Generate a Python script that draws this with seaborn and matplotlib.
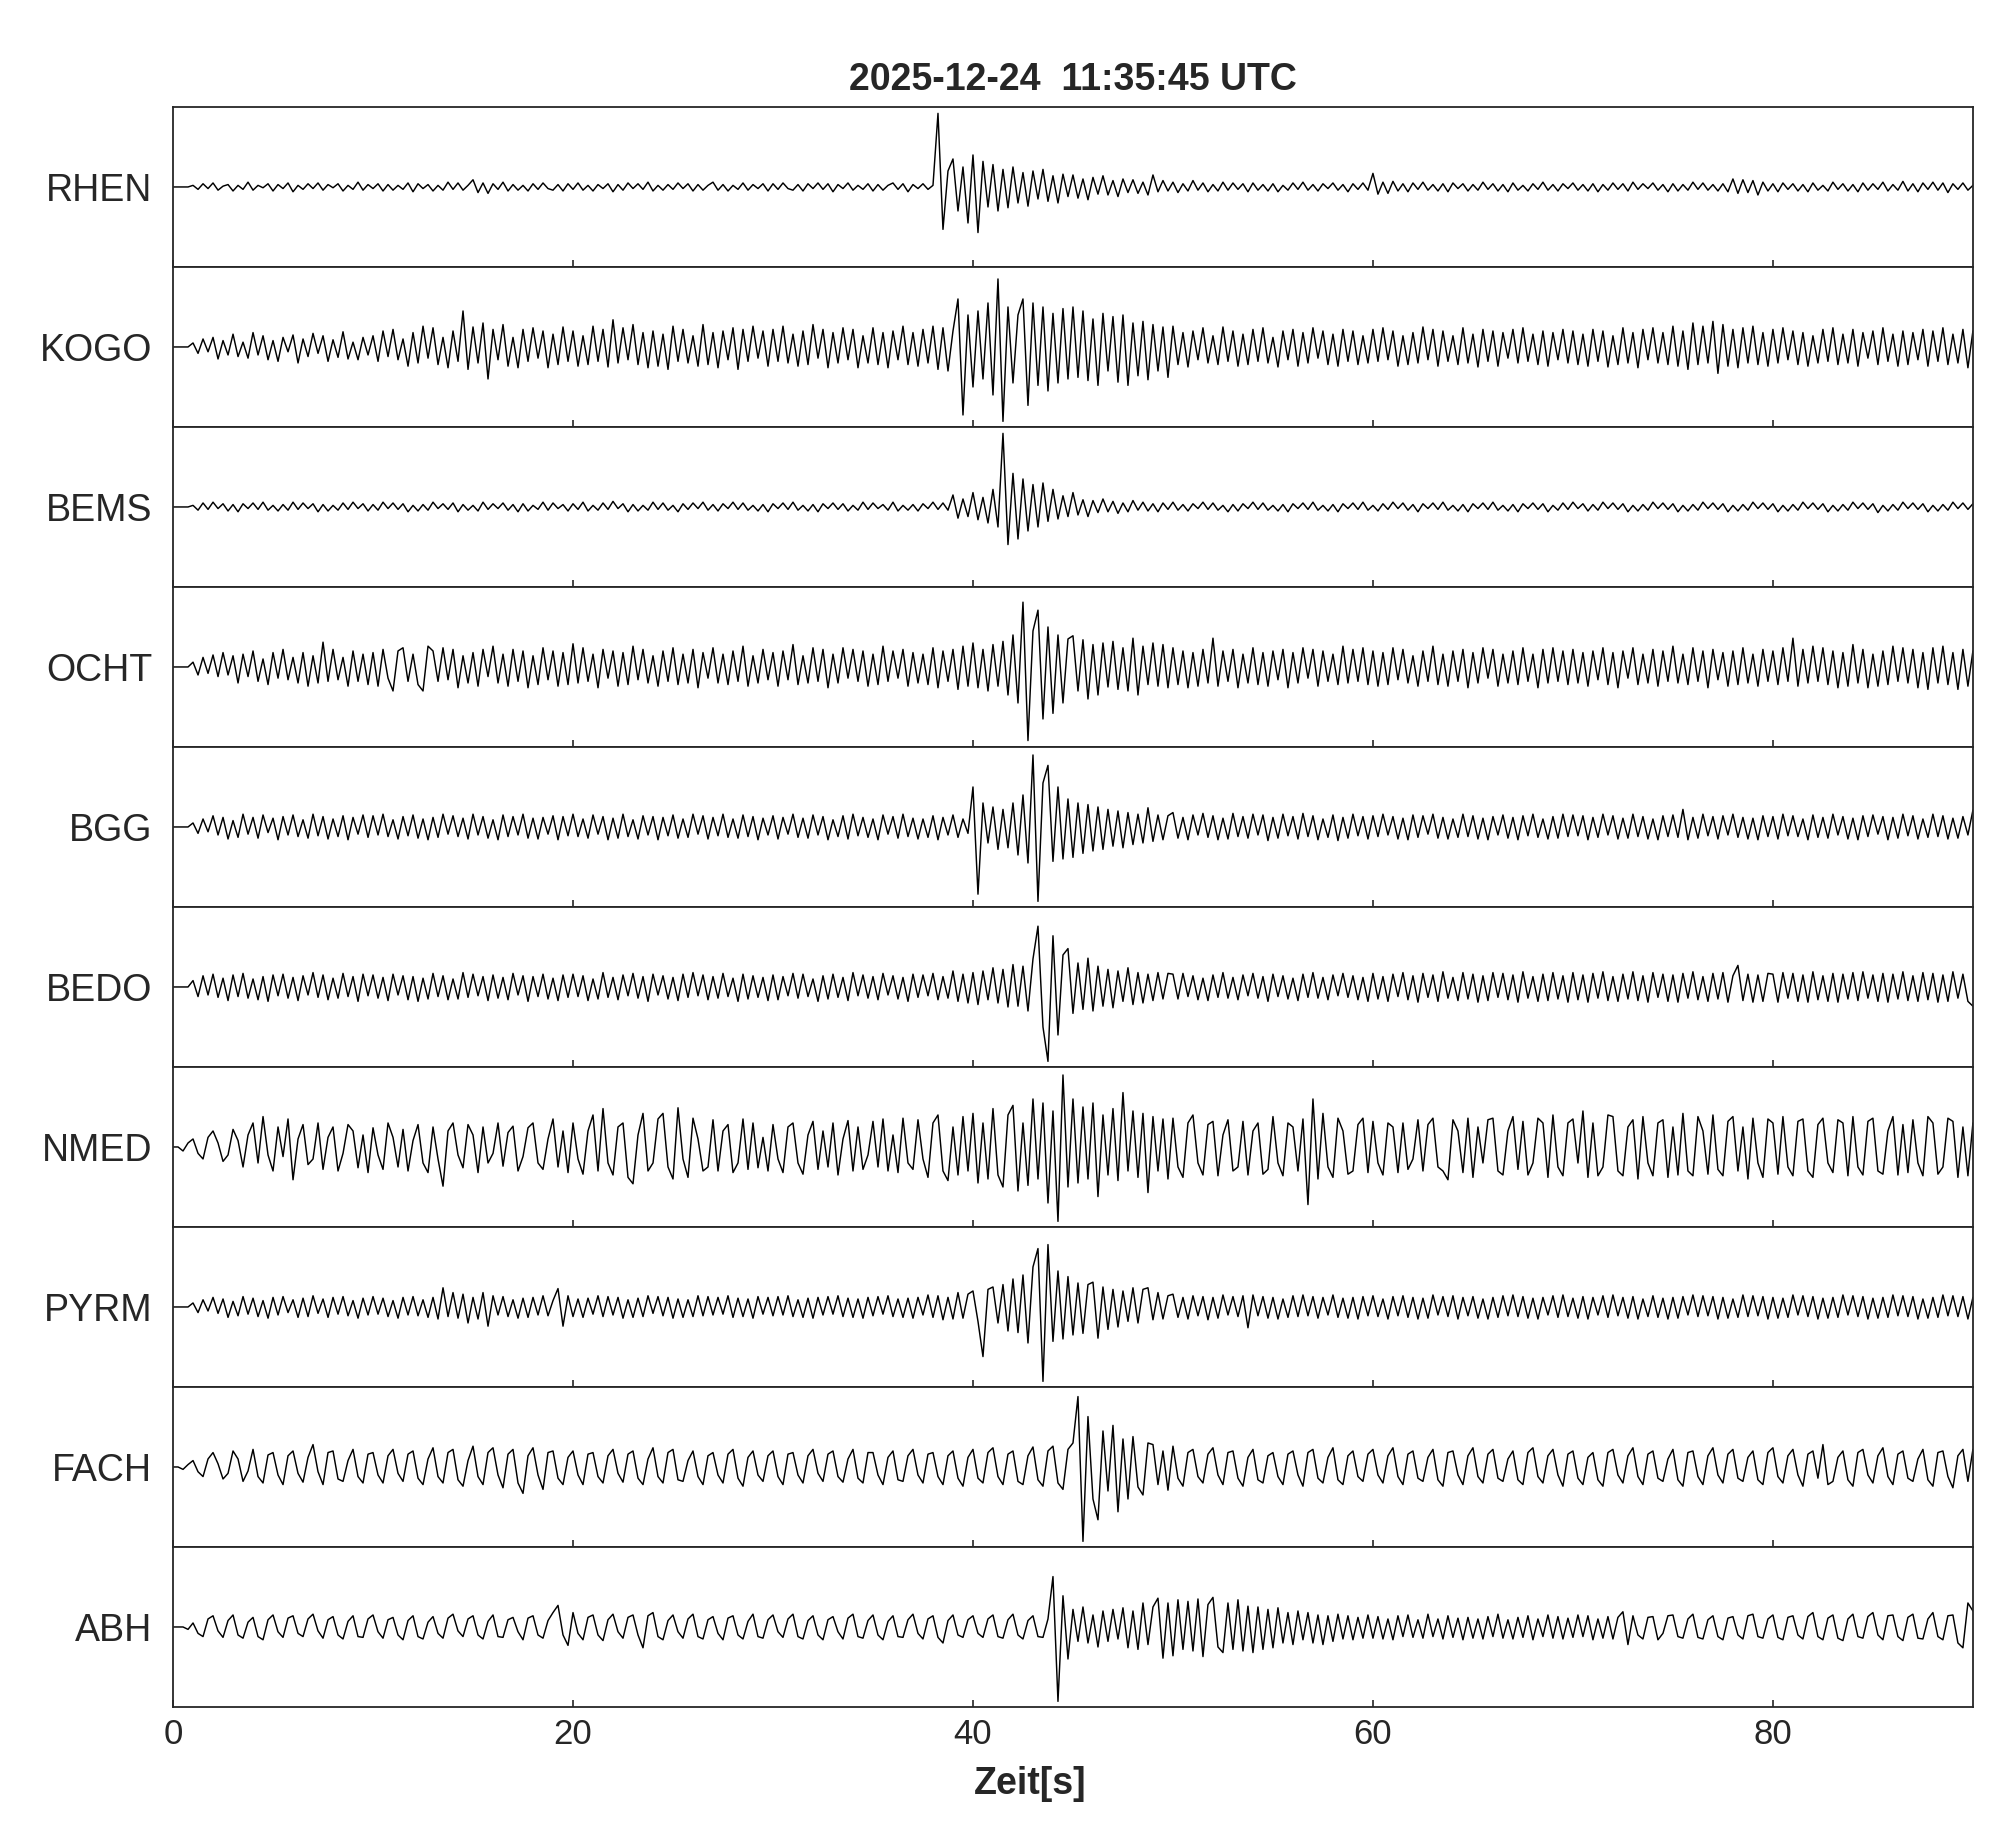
import numpy as np
import pandas as pd
import seaborn as sns
import matplotlib
matplotlib.use("Agg")
import matplotlib.pyplot as plt

# Stationen von oben nach unten
stations = ["RHEN", "KOGO", "BEMS", "OCHT", "BGG", "BEDO", "NMED", "PYRM", "FACH", "ABH"]
title = "2025-12-24  11:35:45 UTC"
dt = 0.25
xticks = [0, 20, 40, 60, 80]

# Amplituden (100 = halbe Spurhoehe)
rhen = [
    [0, 0, 0, 0, 2, -3, 4, -2, 5, -4, 1, 3, -5, 2, -3, 6, -4, 2, -1, 4, -5, 3, -2, 5, -6, 2, -3, 4, -2, 5, -4, 3, -1, 4, -5, 2, -3, 6, -4, 3],
    [-2, 4, -5, 3, -4, 2, -3, 5, -6, 4, -2, 3, -5, 2, -4, 6, -3, 5, -4, 2, 9, -7, 5, -8, 4, -3, 6, -5, 3, -4, 2, -5, 4, -3, 5, -2, -4, 3, -5, 4],
    [-3, 5, -4, 2, -5, 3, -2, 4, -6, 3, -4, 5, -2, 4, -3, 6, -5, 2, -4, 3, -3, 5, -2, 4, -5, 3, -4, 2, 6, -4, 3, -5, 2, -3, 5, -4, 3, -2, 4, -5],
    [4, -3, 5, -2, -4, 3, -5, 4, -2, 5, -3, 4, -6, 3, -2, 5, -4, 2, -3, 4, -5, 3, -4, 2, 5, -3, 4, -6, 3, -2, 4, -3, 2, 92, -53, 20, 35, -30, 25, -45],
    [40, -57, 32, -25, 28, -30, 22, -26, 25, -20, 18, -24, 20, -15, 22, -18, 14, -20, 16, -12, 15, -14, 10, -16, 12, -9, 14, -10, 8, -12, 10, -7, 9, -8, 6, -10, 15, -6, 8, -5],
    [6, -7, 4, -5, 8, -4, 5, -6, 3, -5, 6, -4, 5, -3, 4, -6, 5, -4, 3, -5, 4, -6, 2, -4, 5, -3, 6, -4, 3, -5, 4, -2, 5, -4, 3, -6, 4, -3, 5, -4],
    [17, -9, 6, -8, 7, -5, 4, -6, 5, -3, 6, -4, 3, -5, 4, -6, 5, -2, 4, -5, 3, -4, 6, -3, 4, -5, 3, -6, 5, -4, 2, -5, 4, -3, 6, -4, 3, -5, 4, -2],
    [5, -4, 3, -5, 4, -6, 3, -4, 5, -3, 4, -5, 6, -3, 4, -2, 5, -4, 3, -6, 4, -5, 3, -4, 6, -3, 5, -4, 3, -5, 4, -6, 10, -8, 9, -7, 8, -10, 6, -5],
    [4, -6, 5, -3, 4, -5, 3, -6, 5, -4, 2, -5, 6, -3, 4, -5, 3, -6, 5, -4, 4, -3, 6, -5, 3, -4, 7, -5, 4, -6, 5, -3, 6, -4, 5, -7, 4, -3, 5, -4, 2],
]
kogo = [
    [0, 0, 0, 0, 5, -8, 10, -6, 12, -15, 8, -10, 16, -12, 6, -14, 18, -10, 14, -16, 8, -18, 12, -6, 15, -20, 10, -12, 17, -8, 14, -18, 9, -13, 19, -15, 6, -16, 12, -10],
    [14, -18, 20, -12, 22, -16, 10, -24, 18, -20, 26, -14, 24, -22, 12, -26, 20, -18, 45, -28, 25, -20, 30, -40, 22, -16, 28, -24, 12, -26, 22, -18, 24, -14, 20, -26, 16, -22, 25, -18],
    [20, -24, 14, -22, 26, -18, 22, -25, 34, -20, 24, -16, 28, -22, 18, -26, 20, -24, 16, -28, 26, -18, 22, -20, 14, -24, 28, -22, 18, -26, 20, -16, 24, -28, 22, -18, 26, -14, 20, -24],
    [22, -18, 26, -20, 16, -24, 20, -22, 28, -14, 22, -26, 18, -20, 24, -16, 22, -26, 14, -20, 24, -22, 18, -26, 20, -16, 26, -22, 18, -24, 22, -20, 26, -28, 24, -30, 20, 60, -85, 40],
    [-50, 45, -40, 55, -60, 85, -93, 50, -45, 40, 60, -73, 55, -48, 50, -55, 42, -45, 48, -40, 50, -38, 45, -42, 35, -48, 42, -30, 38, -44, 40, -48, 30, -36, 32, -41, 28, -30, 25, -38],
    [26, -22, 18, -25, 20, -16, 24, -20, 14, -22, 25, -18, 20, -24, 16, -22, 22, -18, 24, -20, 12, -25, 20, -16, 22, -24, 18, -20, 24, -14, 20, -22, 16, -24, 22, -18, 20, -22, 14, -20],
    [22, -18, 24, -16, 20, -24, 14, -22, 18, -20, 25, -16, 22, -24, 20, -18, 14, -22, 24, -20, 16, -25, 22, -18, 20, -24, 18, -14, 22, -20, 24, -18, 16, -22, 20, -24, 18, -16, 22, -20],
    [20, -22, 16, -24, 22, -18, 20, -25, 14, -22, 24, -20, 18, -26, 22, -16, 24, -20, 18, -22, 26, -24, 20, -28, 30, -22, 26, -20, 32, -33, 28, -24, 22, -26, 24, -20, 26, -22, 18, -24],
    [22, -20, 24, -16, 20, -22, 18, -24, 14, -20, 22, -18, 24, -22, 16, -20, 22, -24, 18, -14, 20, -22, 24, -18, 16, -24, 20, -22, 18, -16, 22, -24, 20, -18, 24, -22, 16, -20, 22, -26, 20],
]
bems = [
    [0, 0, 0, 0, 2, -4, 5, -3, 6, -2, 4, -5, 3, -6, 4, -2, 5, -3, 6, -4, 2, -5, 3, -4, 6, -3, 5, -2, 4, -6, 3, -5, 2, -4, 5, -3, 6, -2, 4, -5],
    [3, -4, 6, -2, 5, -3, 4, -6, 2, -5, 3, -4, 6, -2, 4, -3, 5, -6, 3, -4, 2, -5, 6, -3, 4, -2, 5, -4, 3, -6, 4, -5, 2, -3, 6, -4, 5, -2, 3, -5],
    [4, -3, 6, -5, 2, -4, 5, -3, 7, -2, 4, -6, 3, -5, 2, -4, 6, -3, 5, -4, 2, -6, 4, -3, 5, -2, 6, -4, 3, -5, 4, -2, 6, -3, 5, -4, 2, -5, 3, -6],
    [4, -2, 5, -3, 6, -4, 2, -5, 3, -6, 4, -2, 5, -3, 4, -5, 2, -4, 6, -3, 5, -2, 3, -4, 6, -5, 2, -4, 3, -5, 4, -2, 6, -3, 5, -4, 15, -14, 10, -12],
    [18, -16, 12, -20, 22, -25, 92, -47, 42, -40, 35, -30, 28, -25, 30, -18, 22, -15, 14, -12, 18, -10, 9, -12, 8, -7, 10, -6, 7, -8, 5, -6, 8, -4, 6, -5, 4, -6, 5, -3],
    [6, -4, 3, -5, 4, -2, 6, -3, 5, -4, 2, -6, 3, -5, 4, -2, 6, -3, 5, -4, 2, -5, 3, -6, 4, -2, 5, -3, 6, -4, 2, -5, 3, -6, 4, -2, 5, -3, 6, -4],
    [2, -5, 4, -3, 6, -2, 5, -4, 3, -6, 4, -2, 5, -3, 6, -4, 2, -5, 3, -6, 4, -2, 5, -3, 6, -4, 2, -5, 3, -6, 4, -2, 5, -3, 4, -6, 2, -4, 5, -3],
    [6, -2, 4, -5, 3, -4, 6, -2, 5, -3, 4, -6, 2, -5, 3, -4, 6, -2, 5, -3, 4, -6, 2, -5, 3, -4, 6, -2, 5, -3, 4, -6, 2, -5, 3, -4, 6, -2, 5, -3],
    [4, -6, 2, -5, 3, -4, 6, -2, 5, -3, 4, -6, 2, -5, 3, -4, 6, -2, 5, -3, 4, -7, 2, -5, 3, -4, 6, -2, 5, -3, 4, -6, 2, -5, 3, -4, 6, -2, 5, -3, 4],
]
ocht = [
    [0, 0, 0, 0, 6, -10, 12, -8, 15, -12, 18, -10, 14, -20, 16, -12, 20, -18, 10, -22, 18, -14, 22, -16, 12, -20, 18, -24, 14, -20, 31, -18, 22, -16, 12, -24, 20, -18, 16, -22],
    [18, -24, 22, -14, -30, 20, 24, -18, 16, -22, -30, 26, 20, -18, 24, -16, 22, -26, 14, -20, 18, -24, 22, -12, 26, -20, 16, -24, 22, -18, 20, -26, 14, -22, 24, -16, 20, -24, 18, -22],
    [29, -20, 24, -18, 16, -26, 22, -14, 20, -24, 18, -22, 26, -16, 22, -20, 14, -24, 20, -18, 24, -22, 16, -20, 22, -26, 18, -14, 24, -20, 16, -22, 20, -18, 26, -24, 14, -20, 22, -16],
    [18, -24, 20, -16, 28, -22, 14, -20, 24, -18, 22, -26, 16, -20, 24, -14, 22, -18, 20, -24, 16, -22, 26, -18, 20, -14, 22, -24, 18, -20, 16, -22, 24, -26, 20, -18, 22, -28, 26, -24],
    [30, -26, 22, -30, 28, -24, 32, -35, 40, -45, 81, -92, 45, 71, -65, 50, -58, 40, -45, 35, 39, -30, 34, -40, 28, -35, 30, -25, 32, -28, 24, -30, 36, -35, 26, -22, 30, -24, 28, -26],
    [24, -22, 20, -26, 18, -24, 22, -20, 36, -24, 20, -18, 22, -26, 16, -20, 24, -22, 18, -24, 20, -16, 22, -26, 18, -20, 24, -14, 22, -24, 20, -18, 16, -22, 26, -20, 22, -18, 24, -22],
    [20, -24, 18, -22, 24, -16, 22, -20, 14, -24, 20, -18, 26, -22, 16, -24, 20, -18, 22, -26, 18, -20, 24, -14, 22, -24, 16, -20, 20, -22, 24, -18, 16, -26, 22, -20, 24, -18, 20, -22],
    [22, -20, 18, -24, 20, -16, 24, -22, 18, -26, 20, -14, 24, -22, 16, -20, 22, -24, 20, -18, 26, -20, 16, -22, 24, -18, 20, -26, 22, -16, 18, -24, 20, -22, 24, -20, 16, -24, 22, -18],
    [20, -22, 24, -18, 36, -24, 22, -20, 26, -18, 24, -22, 20, -26, 18, -24, 28, -20, 22, -26, 16, -24, 20, -22, 26, -18, 24, -20, 22, -26, 18, -28, 24, -20, 26, -22, 18, -28, 22, -24, 20],
]
bgg = [
    [0, 0, 0, 0, 5, -8, 10, -6, 14, -10, 12, -15, 8, -13, 16, -9, 12, -14, 15, -7, 11, -16, 13, -10, 15, -12, 9, -14, 16, -11, 13, -15, 10, -12, 14, -16, 12, -9, 15, -13],
    [14, -10, 16, -12, 9, -15, 13, -11, 15, -14, 10, -16, 12, -13, 16, -9, 14, -12, 11, -15, 16, -10, 13, -14, 9, -16, 15, -12, 13, -10, 16, -14, 11, -15, 12, -9, 14, -16, 13, -11],
    [16, -12, 10, -14, 15, -9, 13, -16, 11, -14, 16, -12, 9, -15, 14, -10, 13, -16, 12, -11, 15, -14, 10, -13, 16, -9, 14, -15, 12, -11, 16, -13, 10, -14, 15, -12, 13, -16, 11, -10],
    [14, -15, 12, -9, 16, -13, 11, -14, 15, -10, 13, -16, 9, -12, 14, -15, 16, -11, 12, -13, 10, -16, 15, -9, 13, -14, 16, -12, 11, -15, 10, -13, 14, -16, 12, -10, 15, -13, 10, -8],
    [50, -84, 30, -20, 25, -28, 22, -26, 30, -35, 40, -45, 90, -93, 55, 77, -43, 50, -40, 35, -38, 30, -33, 28, -30, 25, -28, 22, -24, 20, -26, 18, -22, 16, -20, 24, -18, 15, -16, 14],
    [18, -14, 12, -16, 15, -10, 17, -13, 14, -16, 11, -15, 17, -12, 13, -14, 16, -10, 15, -17, 12, -14, 16, -11, 13, -15, 17, -12, 14, -16, 10, -13, 15, -17, 12, -14, 16, -11, 13, -15],
    [14, -12, 16, -10, 13, -15, 11, -16, 15, -13, 14, -9, 16, -14, 12, -15, 10, -13, 16, -12, 14, -15, 11, -16, 13, -10, 15, -14, 12, -16, 14, -11, 16, -13, 10, -15, 13, -14, 16, -12],
    [15, -11, 14, -16, 12, -13, 16, -10, 14, -15, 11, -14, 16, -12, 13, -15, 10, -16, 14, -12, 15, -13, 22, -16, 12, -14, 16, -11, 13, -15, 14, -10, 16, -13, 12, -15, 11, -16, 14, -12],
    [13, -15, 16, -11, 14, -12, 10, -16, 15, -13, 12, -14, 16, -10, 13, -15, 11, -16, 14, -12, 15, -9, 13, -16, 12, -14, 16, -11, 14, -15, 10, -13, 16, -12, 14, -15, 11, -14, 13, -10, 21],
]
bedo = [
    [0, 0, 0, 0, 8, -12, 14, -10, 16, -13, 11, -17, 15, -12, 17, -14, 10, -16, 13, -18, 15, -11, 16, -14, 12, -17, 14, -10, 18, -13, 15, -16, 11, -14, 17, -12, 13, -18, 16, -11],
    [15, -14, 12, -17, 16, -10, 14, -16, 13, -18, 11, -15, 17, -12, 14, -16, 10, -15, 18, -13, 16, -11, 13, -17, 15, -14, 12, -16, 17, -10, 14, -18, 13, -12, 16, -15, 11, -17, 15, -13],
    [16, -12, 14, -17, 10, -15, 18, -13, 12, -16, 15, -11, 17, -14, 13, -18, 16, -10, 14, -15, 12, -17, 16, -13, 18, -11, 15, -16, 13, -14, 17, -12, 11, -18, 16, -15, 14, -13, 12, -17],
    [15, -16, 13, -11, 17, -14, 16, -12, 10, -18, 14, -15, 16, -13, 12, -17, 18, -11, 15, -14, 13, -16, 17, -10, 14, -15, 12, -18, 16, -13, 15, -11, 17, -16, 13, -14, 20, -18, 16, -20],
    [18, -22, 20, -16, 24, -20, 22, -25, 28, -24, 26, -30, 35, 76, -50, -93, 64, -60, 40, 48, -33, 30, -28, 36, -30, 26, -24, 22, -26, 20, -18, 24, -22, 18, -20, 16, -17, 18, -15, 17],
    [16, -15, 17, -12, 14, -16, 11, -17, 15, -13, 18, -14, 12, -16, 15, -11, 17, -14, 13, -18, 16, -12, 14, -15, 11, -17, 16, -13, 18, -14, 12, -16, 15, -11, 17, -13, 14, -16, 12, -18],
    [17, -15, 13, -18, 16, -12, 18, -16, 14, -19, 17, -13, 15, -18, 19, -14, 12, -17, 18, -15, 16, -19, 14, -17, 18, -13, 17, -16, 15, -19, 19, -14, 13, -18, 16, -17, 18, -15, 14, -19],
    [18, -16, 15, -19, 17, -14, 19, -17, 13, -18, 16, -15, 19, -17, 14, -19, 18, -13, 16, -18, 15, -19, 17, -14, 19, -16, 13, -18, 17, -15, 18, -19, 14, 27, -17, 16, -19, 15, -18, 17],
    [16, -19, 18, -14, 17, -18, 15, -19, 19, -16, 14, -18, 17, -19, 16, -15, 18, -17, 19, -14, 15, -18, 17, -19, 16, -15, 19, -17, 14, -18, 18, -16, 17, -19, 15, -18, 19, -14, 16, -18, -24],
]
nmed = [
    [0, 0, -5, 5, 10, -8, -15, 12, 20, 5, -18, -10, 22, 8, -25, 15, 30, -20, 38, -10, -30, 25, -12, 35, -41, 10, 28, -22, -15, 30, -28, 12, 25, -30, -8, 28, 20, -26, 15, -32],
    [24, -10, -28, 30, 12, -25, 22, -30, 8, 28, -20, -32, 25, -15, -49, 20, 30, -10, -26, 28, 15, -32, 25, -20, -8, 30, -24, 18, 26, -30, -12, 24, 30, -20, -28, 10, 35, -25, 20, -32],
    [30, -15, -34, 20, 40, -30, 48, -20, -35, 25, 30, -38, -46, 15, 42, -30, -20, 35, 42, -25, -40, 49, -15, -38, 36, 10, -30, -25, 34, -30, 20, 28, -32, -20, 35, -28, 30, -26, 12, -30],
    [28, -15, -32, 25, 30, -20, -34, 15, 32, -28, 20, -25, 30, -35, 10, 33, -30, 25, -28, -10, 32, -25, 35, -30, 15, -32, 36, -20, -28, 34, -15, -38, 30, 40, -30, -42, 25, -35, 38, -30],
    [42, -45, 30, -40, 48, -35, -50, 40, 52, -55, 30, -48, 60, -40, 55, -70, 45, -93, 90, -50, 60, -45, 50, -40, 55, -62, 40, -35, 48, -42, 68, -30, 45, -38, 42, -57, 38, -30, 35, -40],
    [36, -25, -38, 30, 40, -20, -35, 28, 32, -36, 15, 34, -30, -25, 32, -35, 20, 30, -34, -28, 38, -20, -36, 30, 25, -30, 35, -72, 60, -40, 42, -25, -38, 36, 20, -34, -30, 28, 36, -32],
    [32, -20, -35, 30, 25, -32, 30, -28, -15, 34, -30, 28, 36, -25, -30, -41, 34, 20, -32, 36, -38, 25, -20, 34, 36, -30, -35, 20, 38, -28, 32, -35, -20, 36, 30, -38, 40, -25, -36, 30],
    [35, -20, 45, -38, 30, -36, -25, 40, 38, -30, -36, 25, 34, -40, 38, -20, -36, 30, 34, -38, 25, -35, 42, -30, -36, 38, 20, -34, 40, -28, -36, 32, 38, -30, 25, -40, 36, -20, -38, 35],
    [30, -34, 38, -25, -36, 32, 35, -30, -38, 28, 36, -20, -32, 34, 30, -36, 38, -25, -35, 32, 36, -30, -34, 20, 38, -35, 28, -32, 34, -20, -36, 38, 30, -34, -25, 36, 32, -38, 25, -36, 30],
]
pyrm = [
    [0, 0, 0, 0, 5, -7, 9, -5, 12, -8, 10, -13, 7, -11, 13, -9, 11, -12, 8, -14, 12, -10, 13, -7, 9, -13, 11, -12, 14, -8, 10, -13, 12, -9, 13, -11, 8, -14, 11, -10],
    [13, -9, 11, -12, 8, -14, 12, -10, 13, -11, 9, -13, 12, -15, 24, -12, 18, -14, 16, -20, 12, -15, 18, -24, 14, -10, 13, -12, 9, -14, 11, -13, 12, -10, 14, -11, 8, 23, -24, 14],
    [-12, 10, -13, 11, -9, 14, -12, 13, -10, 12, -14, 9, -13, 11, -12, 14, -8, 13, -11, 12, -14, 10, -13, 9, -12, 14, -11, 13, -10, 12, -9, 14, -13, 11, -12, 10, -14, 13, -9, 12],
    [-11, 13, -10, 14, -12, 9, -13, 11, -14, 12, -10, 13, -9, 14, -12, 11, -13, 10, -14, 12, -11, 13, -9, 14, -12, 10, -13, 11, -14, 12, -10, 15, -13, 14, -16, 12, -15, 18, -14, 16],
    [20, -18, -62, 22, 25, -20, 28, -30, 35, -32, 40, -45, 50, 73, -93, 78, -43, 45, -40, 38, -35, 30, -33, 28, 31, -39, 25, -28, 22, -25, 20, -18, 24, -20, 22, 24, -16, 18, -15, 14],
    [16, -13, 12, -15, 14, -11, 13, -16, 12, -14, 15, -10, 13, -12, 14, -26, 15, -11, 13, -14, 12, -15, 10, -13, 14, -12, 15, -11, 13, -14, 12, -10, 15, -13, 11, -14, 12, -15, 13, -11],
    [14, -12, 10, -15, 13, -11, 14, -13, 12, -15, 11, -14, 15, -10, 13, -12, 14, -15, 12, -11, 13, -14, 10, -15, 12, -13, 14, -11, 15, -12, 13, -14, 11, -15, 12, -10, 14, -13, 15, -12],
    [11, -14, 13, -15, 12, -10, 14, -13, 15, -11, 12, -14, 13, -15, 10, -12, 14, -13, 11, -15, 12, -14, 13, -10, 15, -12, 14, -11, 13, -15, 12, -14, 10, -13, 15, -12, 14, -11, 13, -15],
    [12, -14, 11, -13, 15, -10, 14, -12, 13, -15, 11, -14, 12, -13, 15, -10, 14, -12, 13, -15, 11, -14, 12, -13, 15, -11, 14, -12, 13, -15, 10, -14, 12, -13, 15, -11, 14, -12, 13, -15, 12],
]
fach = [
    [0, 0, -3, 3, 8, -6, -12, 10, 18, 4, -15, -8, 20, 10, -18, -5, 22, -12, -20, 15, 18, -10, -22, 14, 20, -8, -19, 12, 28, -6, -22, 18, 20, -15, -18, 8, 22, -12, -20, 16],
    [18, -10, -20, 14, 22, -8, -18, 16, 20, -14, -22, 10, 24, -12, -20, 18, 22, -16, -24, 8, 26, -12, -22, 18, 24, -10, -26, 16, 22, -20, -33, 14, 24, -10, -28, 18, 20, -14, -22, 12],
    [20, -10, -22, 16, 18, -12, -20, 14, 22, -8, -19, 16, 20, -14, -22, 10, 24, -12, -20, 18, 22, -16, -18, 8, 20, -12, -22, 14, 18, -10, -20, 16, 22, -14, -24, 12, 20, -10, -18, 14],
    [20, -12, -22, 16, 18, -10, -20, 14, 22, -8, -18, 16, 20, -12, -19, 10, 22, -14, -20, 18, 18, -10, -22, 12, 20, -16, -18, 14, 22, -10, -20, 16, 18, -12, -22, 14, 20, -14, -24, 12],
    [22, -14, -20, 18, 24, -12, -22, 16, 20, -18, -22, 14, 25, -16, -24, 20, 26, -20, -28, 22, 30, 88, -93, 63, -40, -66, 45, -30, 52, -56, 35, -40, 38, -25, -35, 30, 28, -22, 20, -29],
    [26, -14, -24, 18, 22, -12, -20, 16, 24, -10, -22, 18, 20, -14, -24, 12, 22, -16, -20, 14, 18, -12, -22, 16, 20, -10, -24, 18, 22, -14, -20, 12, 24, -16, -22, 14, 20, -12, -18, 16],
    [22, -10, -20, 14, 24, -12, -22, 16, 20, -14, -18, 12, 22, -16, -24, 18, 20, -10, -22, 14, 24, -12, -20, 16, 22, -14, -18, 10, 20, -16, -22, 18, 24, -12, -20, 14, 22, -10, -24, 16],
    [20, -14, -22, 12, 18, -16, -24, 18, 22, -10, -20, 14, 24, -12, -22, 16, 20, -14, -18, 10, 22, -16, -24, 18, 20, -12, -22, 14, 24, -10, -20, 16, 22, -14, -18, 12, 20, -16, -22, 18],
    [24, -12, -20, 14, 22, -10, -24, 16, 20, -14, 28, -22, -18, 12, 20, -16, -24, 18, 22, -10, -20, 14, 24, -12, -22, 16, 20, -14, -18, 10, 22, -16, -24, 18, 20, -12, -26, 14, 22, -18, 22],
]
abh = [
    [0, 0, 0, -3, 5, -8, -12, 10, 14, -5, -13, 8, 15, -10, -14, 6, 12, -12, -16, 9, 15, -6, -13, 11, 14, -8, -12, 10, 16, -5, -14, 9, 13, -10, -15, 7, 14, -12, -13, 10],
    [15, -6, -14, 9, 12, -10, -16, 8, 14, -12, -15, 6, 13, -8, -14, 11, 16, -5, -12, 10, 14, -10, -15, 7, 15, -12, -13, 9, 12, -6, -16, 11, 14, -10, -14, 8, 18, 27, -10, -23],
    [18, -8, -16, 12, 15, -10, -17, 9, 16, -6, -14, 12, 15, -10, -26, 14, 18, -12, -16, 8, 15, -6, -14, 10, 16, -12, -15, 9, 13, -8, -16, 11, 14, -10, -15, 7, 16, -12, -14, 9],
    [15, -6, -13, 10, 16, -12, -15, 8, 14, -10, -16, 9, 13, -6, -15, 11, 16, -12, -14, 8, 15, -10, -16, 7, 14, -12, -13, 9, 16, -8, -15, 10, 14, -13, -20, 8, 15, -10, -13, 9],
    [14, -8, -13, 10, 15, -12, -14, 9, 16, -10, -15, 8, 14, -12, -13, 10, 63, -93, 39, -40, 22, -18, 25, -20, 15, -25, 20, -18, 22, -15, 24, -26, 20, -28, 30, -22, 25, 36, -39, 30],
    [-36, 34, -28, 32, -30, 35, -37, 28, 37, -25, -32, 30, -28, 34, -30, 26, -32, 25, -28, 22, -26, 24, -20, 18, -22, 20, -16, 18, -20, 15, -22, 14, -18, 16, -15, 14, -16, 12, -14, 15],
    [-14, 13, -15, 10, -16, 14, -12, 15, -13, 9, -14, 16, -12, 10, -15, 14, -13, 11, -16, 12, -14, 10, -15, 13, -12, 16, -14, 9, -15, 12, -13, 14, -16, 10, -12, 15, -14, 13, -15, 11],
    [-13, 15, -12, 14, -16, 10, -14, 13, -15, 12, 19, -22, 14, -10, -15, 12, 13, -16, -8, 14, 15, -12, -14, 10, 16, -13, -15, 9, 14, -12, -16, 11, 13, -10, -15, 14, 16, -12, -14, 10],
    [15, -13, -16, 12, 14, -10, -15, 13, 18, -12, -16, 11, 15, -14, -17, 10, 16, -12, -14, 13, 18, -10, -16, 14, 15, -12, -17, 12, 16, -14, -15, 10, 18, -12, -16, 14, 15, -20, -26, 30, 20],
]

traces = [rhen, kogo, bems, ocht, bgg, bedo, nmed, pyrm, fach, abh]

rows = []
for name, trace in zip(stations, traces):
    for k, row in enumerate(trace):
        soll = 41 if k == len(trace) - 1 else 40
        assert len(row) == soll, f"{name} Zeile {k}: {len(row)} Werte"
    vals = [v for row in trace for v in row]
    for i, v in enumerate(vals):
        rows.append({"station": name, "zeit": i * dt, "amp": v})
df = pd.DataFrame(rows)

sns.set_style("ticks")
plt.rcParams["font.family"] = ["Liberation Sans", "DejaVu Sans"]

fig, axes = plt.subplots(len(stations), 1, figsize=(20.05, 18.41), dpi=100, sharex=True)
fig.subplots_adjust(left=0.0863, right=0.984, top=0.9419, bottom=0.0728, hspace=0)

for ax, name in zip(axes, stations):
    sns.lineplot(data=df[df["station"] == name], x="zeit", y="amp", ax=ax,
                 color="black", linewidth=1.05, estimator=None, sort=False)
    ax.set_xlim(0, 90)
    ax.set_ylim(-100, 100)
    ax.set_yticks([0])
    ax.set_yticklabels([name], fontsize=27)
    ax.tick_params(axis="y", length=0, pad=15)
    ax.set_xticks(xticks)
    ax.tick_params(axis="x", direction="in", length=5, width=1.2, labelsize=25, pad=8)
    ax.set_ylabel("")
    ax.set_xlabel("")
    for sp in ax.spines.values():
        sp.set_visible(True)
        sp.set_linewidth(1.3)

axes[0].set_title(title, fontsize=27, fontweight="bold", pad=12)
axes[-1].set_xlabel("Zeit[s]", fontsize=27, fontweight="bold", labelpad=6)
axes[-1].xaxis.set_label_coords(0.476, -0.37)

fig.savefig("out.png", dpi=100)
